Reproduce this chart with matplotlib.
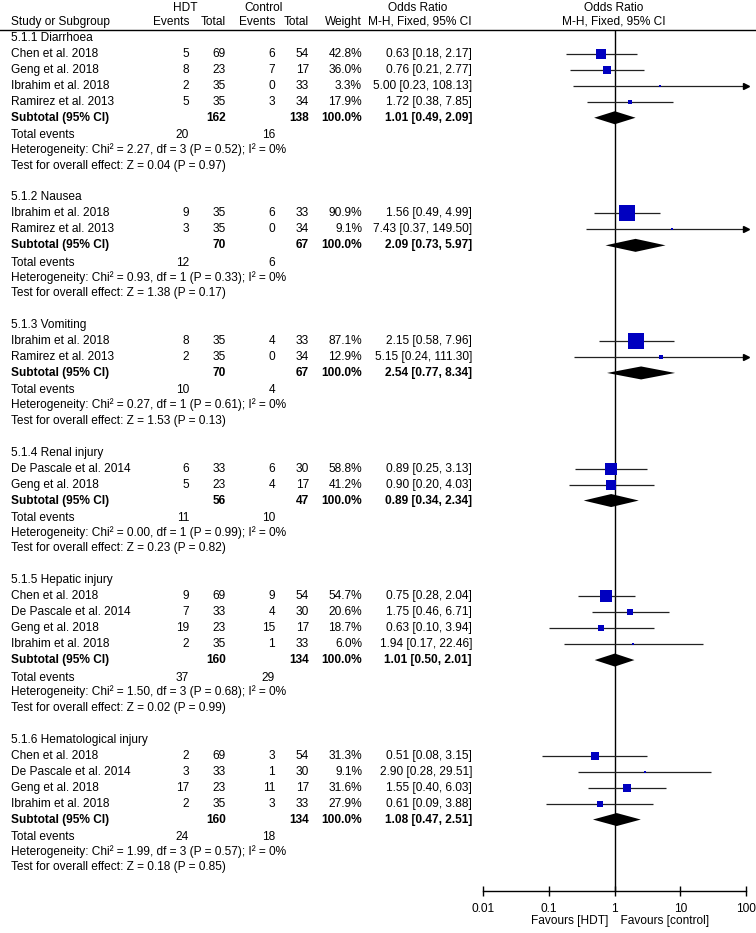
import numpy as np
import matplotlib.pyplot as plt
from matplotlib.ticker import FixedLocator, FixedFormatter

plt.rcParams['font.family'] = ['Liberation Sans', 'DejaVu Sans']

# Datos por subgrupo
group_names = ['5.1.1 Diarrhoea', '5.1.2 Nausea', '5.1.3 Vomiting',
               '5.1.4 Renal injury', '5.1.5 Hepatic injury', '5.1.6 Hematological injury']

study_names = [
    ['Chen et al. 2018', 'Geng et al. 2018', 'Ibrahim et al. 2018', 'Ramirez et al. 2013'],
    ['Ibrahim et al. 2018', 'Ramirez et al. 2013'],
    ['Ibrahim et al. 2018', 'Ramirez et al. 2013'],
    ['De Pascale et al. 2014', 'Geng et al. 2018'],
    ['Chen et al. 2018', 'De Pascale et al. 2014', 'Geng et al. 2018', 'Ibrahim et al. 2018'],
    ['Chen et al. 2018', 'De Pascale et al. 2014', 'Geng et al. 2018', 'Ibrahim et al. 2018'],
]
hdt_events = [[5, 8, 2, 5], [9, 3], [8, 2], [6, 5], [9, 7, 19, 2], [2, 3, 17, 2]]
hdt_total = [[69, 23, 35, 35], [35, 35], [35, 35], [33, 23], [69, 33, 23, 35], [69, 33, 23, 35]]
ctl_events = [[6, 7, 0, 3], [6, 0], [4, 0], [6, 4], [9, 4, 15, 1], [3, 1, 11, 3]]
ctl_total = [[54, 17, 33, 34], [33, 34], [33, 34], [30, 17], [54, 30, 17, 33], [54, 30, 17, 33]]
weights = [[42.8, 36.0, 3.3, 17.9], [90.9, 9.1], [87.1, 12.9], [58.8, 41.2],
           [54.7, 20.6, 18.7, 6.0], [31.3, 9.1, 31.6, 27.9]]
odds = [[0.63, 0.76, 5.00, 1.72], [1.56, 7.43], [2.15, 5.15], [0.89, 0.90],
        [0.75, 1.75, 0.63, 1.94], [0.51, 2.90, 1.55, 0.61]]
ci_low = [[0.18, 0.21, 0.23, 0.38], [0.49, 0.37], [0.58, 0.24], [0.25, 0.20],
          [0.28, 0.46, 0.10, 0.17], [0.08, 0.28, 0.40, 0.09]]
ci_high = [[2.17, 2.77, 108.13, 7.85], [4.99, 149.50], [7.96, 111.30], [3.13, 4.03],
           [2.04, 6.71, 3.94, 22.46], [3.15, 29.51, 6.03, 3.88]]

sub_hdt_total = [162, 70, 70, 56, 160, 160]
sub_ctl_total = [138, 67, 67, 47, 134, 134]
sub_or = [1.01, 2.09, 2.54, 0.89, 1.01, 1.08]
sub_low = [0.49, 0.73, 0.77, 0.34, 0.50, 0.47]
sub_high = [2.09, 5.97, 8.34, 2.34, 2.01, 2.51]
tot_hdt_events = [20, 12, 10, 11, 37, 24]
tot_ctl_events = [16, 6, 4, 10, 29, 18]
chi2 = ['2.27', '0.93', '0.27', '0.00', '1.50', '1.99']
df = [3, 1, 1, 1, 3, 3]
p_het = ['0.52', '0.33', '0.61', '0.99', '0.68', '0.57']
z_val = ['0.04', '1.38', '1.53', '0.23', '0.02', '0.18']
p_z = ['0.97', '0.17', '0.13', '0.82', '0.99', '0.85']

ticks = [0.01, 0.1, 1, 10, 100]
tick_labels = ['0.01', '0.1', '1', '10', '100']

W, H = 756, 933
fig = plt.figure(figsize=(W / 100, H / 100), dpi=100)

# ejes de texto en pixeles
ax = fig.add_axes([0, 0, 1, 1])
ax.set_xlim(0, W)
ax.set_ylim(H, 0)
ax.axis('off')

# ejes del forest plot (escala log)
x0, x1, y_axis = 483, 746, 891
fx = fig.add_axes([x0 / W, (H - y_axis) / H, (x1 - x0) / W, y_axis / H])
fx.set_xscale('log')
fx.set_xlim(0.01, 100)
fx.set_ylim(y_axis, 0)
fx.patch.set_visible(False)
for s in ['top', 'left', 'right']:
    fx.spines[s].set_visible(False)
fx.spines['bottom'].set_linewidth(1)
fx.set_yticks([])
fx.xaxis.set_major_locator(FixedLocator(ticks))
fx.xaxis.set_major_formatter(FixedFormatter(tick_labels))
fx.xaxis.set_minor_locator(FixedLocator([]))
fx.tick_params(axis='x', direction='inout', length=7, width=1, pad=5, labelsize=8.6)

fs = 8.6
col_name = 11
col_he, col_ht, col_ce, col_ct, col_w, col_ci = 189, 226, 275, 309, 362, 472

# encabezado
ax.text(185, 8, 'HDT', ha='center', va='center', fontsize=fs)
ax.text(264, 8, 'Control', ha='center', va='center', fontsize=fs)
ax.text(418, 8, 'Odds Ratio', ha='center', va='center', fontsize=fs)
ax.text(614, 8, 'Odds Ratio', ha='center', va='center', fontsize=fs)
hy = 22
ax.text(col_name, hy, 'Study or Subgroup', ha='left', va='center', fontsize=fs)
ax.text(col_he, hy, 'Events', ha='right', va='center', fontsize=fs)
ax.text(col_ht, hy, 'Total', ha='right', va='center', fontsize=fs)
ax.text(col_ce, hy, 'Events', ha='right', va='center', fontsize=fs)
ax.text(col_ct, hy, 'Total', ha='right', va='center', fontsize=fs)
ax.text(col_w, hy, 'Weight', ha='right', va='center', fontsize=fs)
ax.text(col_ci, hy, 'M-H, Fixed, 95% CI', ha='right', va='center', fontsize=fs)
ax.text(614, hy, 'M-H, Fixed, 95% CI', ha='center', va='center', fontsize=fs)
ax.axhline(29.5, color='black', lw=1)

fx.vlines(1, 29.5, y_axis, color='black', lw=1)

row_h = 15.95
y = 38.0
blue = '#0000c0'


def row_text(yy, name, vals, bold=False):
    wt = 'bold' if bold else 'normal'
    ax.text(col_name, yy, name, ha='left', va='center', fontsize=fs, fontweight=wt)
    for xc, v in zip([col_he, col_ht, col_ce, col_ct, col_w, col_ci], vals):
        if v != '':
            ax.text(xc, yy, v, ha='right', va='center', fontsize=fs, fontweight=wt)


for g in range(len(group_names)):
    ax.text(col_name, y, group_names[g], ha='left', va='center', fontsize=fs)
    y += row_h
    for i in range(len(study_names[g])):
        row_text(y, study_names[g][i],
                 [str(hdt_events[g][i]), str(hdt_total[g][i]),
                  str(ctl_events[g][i]), str(ctl_total[g][i]),
                  '%.1f%%' % weights[g][i],
                  '%.2f [%.2f, %.2f]' % (odds[g][i], ci_low[g][i], ci_high[g][i])])
        hi = min(ci_high[g][i], 100)
        fx.plot([ci_low[g][i], hi], [y, y], color='#222222', lw=0.9,
                solid_capstyle='butt', clip_on=False)
        if ci_high[g][i] > 100:
            fx.plot([100], [y], marker='>', color='black', ms=5, clip_on=False)
        side = max(2.0, 0.57 * weights[g][i] ** 0.75)
        fx.plot([odds[g][i]], [y], marker='s', color=blue, ms=side * 0.72,
                mew=0, clip_on=False, zorder=3)
        y += row_h
    row_text(y, 'Subtotal (95% CI)',
             ['', str(sub_hdt_total[g]), '', str(sub_ctl_total[g]), '100.0%',
              '%.2f [%.2f, %.2f]' % (sub_or[g], sub_low[g], sub_high[g])], bold=True)
    dh = 6.5
    fx.fill([sub_low[g], sub_or[g], sub_high[g], sub_or[g]],
            [y, y - dh, y, y + dh], color='black', lw=0, zorder=4)
    y += row_h
    ax.text(col_name, y + 1.5, 'Total events', ha='left', va='center', fontsize=fs)
    ax.text(col_he, y + 1.5, str(tot_hdt_events[g]), ha='right', va='center', fontsize=fs)
    ax.text(col_ce, y + 1.5, str(tot_ctl_events[g]), ha='right', va='center', fontsize=fs)
    y += row_h
    ax.text(col_name, y, 'Heterogeneity: Chi\u00b2 = %s, df = %d (P = %s); I\u00b2 = 0%%'
            % (chi2[g], df[g], p_het[g]), ha='left', va='center', fontsize=fs)
    y += row_h
    ax.text(col_name, y, 'Test for overall effect: Z = %s (P = %s)' % (z_val[g], p_z[g]),
            ha='left', va='center', fontsize=fs)
    y += 2 * row_h

fx.text(1, 921, 'Favours [HDT]  ', ha='right', va='center', fontsize=fs)
fx.text(1, 921, '  Favours [control]', ha='left', va='center', fontsize=fs)

fig.savefig('out.png', dpi=100)
